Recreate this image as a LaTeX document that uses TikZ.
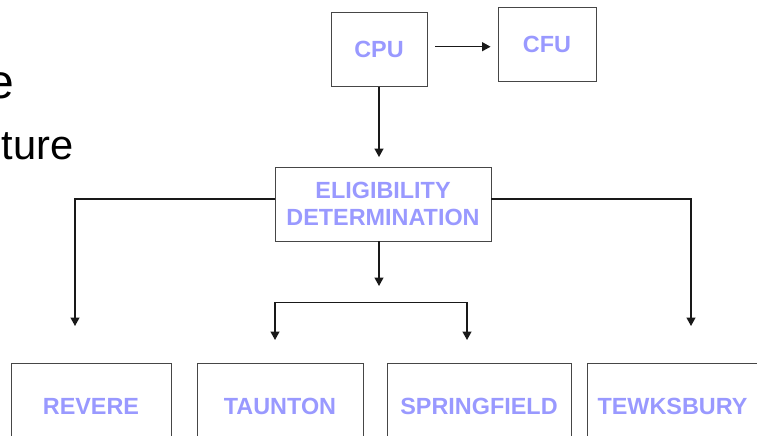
\documentclass[tikz,border=0pt]{standalone}
\usepackage{fontspec}
\setmainfont{Liberation Sans}
\usetikzlibrary{arrows.meta}
\definecolor{boxtext}{RGB}{153,153,255}
\definecolor{boxline}{RGB}{70,70,70}

\begin{document}
\begin{tikzpicture}[
    x=1pt, y=-1pt,
    >={Triangle[width=9pt,length=8.5pt]},
    unit/.style={draw=boxline, line width=0.9pt, minimum width=#1, minimum height=74pt, inner sep=0pt, align=center, text=boxtext, font=\fontsize{23.4}{26.7}\selectfont\bfseries},
    site/.style={unit=#1, minimum height=86pt},
    link/.style={->, line width=1.3pt, draw=black!90},
    title/.style={anchor=base east, inner sep=0pt, font=\fontsize{41.6}{48}\selectfont}
  ]
    \useasboundingbox (0,0) rectangle (757,436);
    \clip (0,0) rectangle (757,436);

    \node[title, font=\fontsize{48}{56}\selectfont] (head top) at (14,98) {e};
    \node[title] (head bottom) at (73.5,159) {ture};

    \node[unit=96pt] (cpu) at (379,49.5) {CPU};
    \node[unit=98pt] (cfu) at (547,44) {CFU};
    \node[unit=216pt] (elig) at (383,204) {ELIGIBILITY\\DETERMINATION};

    \node[site=160pt] (revere) at (91,406) {REVERE};
    \node[site=166pt] (taunton) at (280,406) {TAUNTON};
    \node[site=184pt] (springfield) at (479,406) {SPRINGFIELD};
    \node[site=171pt] (tewksbury) at (672.5,406) {TEWKSBURY};

    \coordinate (revere in) at (75,326);
    \coordinate (tewksbury in) at (691,326);
    \coordinate (split) at (379,286);
    \coordinate (fork) at (379,302.5);
    \coordinate (taunton in) at (275,340);
    \coordinate (springfield in) at (467,340);

    \draw[link, shorten <=8pt, shorten >=7pt] ([yshift=2.8pt]cpu.east) -- ([yshift=2.8pt]cpu.east -| cfu.west);
    \draw[link, shorten >=9.5pt] (cpu) -- (cpu |- elig.north);
    \draw[link] ([yshift=5pt]elig.west) -| (revere in);
    \draw[link] ([yshift=5pt]elig.east) -| (tewksbury in);
    \draw[link] (elig.south -| split) -- (split);
    \draw[link] (fork) -| (taunton in);
    \draw[link] (fork) -| (springfield in);
  \end{tikzpicture}
\end{document}
